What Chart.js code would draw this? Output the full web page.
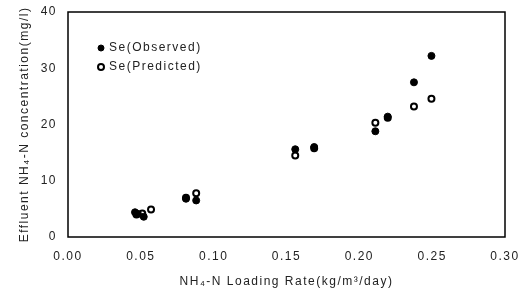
<!DOCTYPE html>
<html><head><meta charset="utf-8">
<script src="https://cdn.jsdelivr.net/npm/chart.js@4"></script>
<style>html,body{margin:0;padding:0;background:#fff}#wrap{width:527px;height:291px}</style>
</head><body><div id="wrap"><canvas id="c"></canvas></div>
<script>
const xTicks = [0, 0.05, 0.10, 0.15, 0.20, 0.25, 0.30];
const yTicks = [0, 10, 20, 30, 40];
const obsX = [0.046, 0.048, 0.052, 0.081, 0.088, 0.156, 0.169, 0.211, 0.2195, 0.2375, 0.2495];
const obsY = [4.4, 4.1, 3.6, 6.8, 6.5, 15.6, 16.0, 18.8, 21.4, 27.5, 32.2];
const predX = [0.047, 0.051, 0.057, 0.081, 0.088, 0.156, 0.169, 0.211, 0.2195, 0.2375, 0.2495];
const predY = [4.0, 4.2, 4.9, 7.0, 7.8, 14.5, 15.8, 20.3, 21.2, 23.2, 24.6];
const labels = ['Se(Observed)', 'Se(Predicted)'];
const xTitle = 'NH\u2084-N Loading Rate(kg/m\u00B3/day)';
const yTitle = 'Effluent NH\u2084-N concentration(mg/l)';

const FONT = {family: "'Liberation Sans', Arial, sans-serif", size: 12};
const TXT = '#222';

const spacing = {
  id: 'spacing',
  beforeDraw(chart) { chart.ctx.letterSpacing = '1.5px'; },
  beforeLayout(chart) { chart.ctx.letterSpacing = '1.5px'; }
};
const frame = {
  id: 'frame',
  afterDatasetsDraw(chart) {
    const {ctx, chartArea: a} = chart;
    ctx.save();
    ctx.strokeStyle = '#000';
    ctx.lineWidth = 1.5;
    ctx.strokeRect(a.left, a.top, a.right - a.left, a.bottom - a.top);
    ctx.letterSpacing = '1.5px';
    ctx.font = "12px 'Liberation Sans', Arial, sans-serif";
    ctx.textBaseline = 'middle';
    const rows = [48, 67];
    chart.data.datasets.forEach((ds, i) => {
      const y = rows[i];
      ctx.beginPath();
      ctx.arc(101, y, 3, 0, Math.PI * 2);
      ctx.fillStyle = ds.pointBackgroundColor;
      ctx.fill();
      ctx.lineWidth = ds.pointBorderWidth;
      ctx.strokeStyle = '#000';
      ctx.stroke();
      ctx.fillStyle = TXT;
      ctx.fillText(ds.label, 109, y);
    });
    ctx.restore();
  }
};

new Chart(document.getElementById('c'), {
  type: 'scatter',
  data: {
    datasets: [
      {label: labels[0], data: obsX.map((x, i) => ({x, y: obsY[i]})),
       pointRadius: 3.5, pointBackgroundColor: '#000', pointBorderColor: '#000', pointBorderWidth: 1},
      {label: labels[1], data: predX.map((x, i) => ({x, y: predY[i]})),
       pointRadius: 3, pointBackgroundColor: '#fff', pointBorderColor: '#000', pointBorderWidth: 2}
    ]
  },
  options: {
    responsive: true, maintainAspectRatio: false, animation: false,
    layout: {padding: {top: 12, right: 22, left: 13, bottom: 0}},
    plugins: {legend: {display: false}, tooltip: {enabled: false}},
    scales: {
      x: {
        type: 'linear', min: 0, max: 0.3,
        afterBuildTicks: s => { s.ticks = xTicks.map(v => ({value: v})); },
        afterFit: s => { s.height = 54; },
        grid: {display: false}, border: {display: false},
        ticks: {font: FONT, color: TXT, padding: 4, callback: v => v.toFixed(2), maxRotation: 0},
        title: {display: true, text: xTitle, font: FONT, color: TXT, padding: {top: 6, bottom: 2}}
      },
      y: {
        type: 'linear', min: 0, max: 40,
        afterBuildTicks: s => { s.ticks = yTicks.map(v => ({value: v})); },
        afterFit: s => { s.width = 55; },
        grid: {display: false}, border: {display: false},
        ticks: {font: FONT, color: TXT, padding: 3},
        title: {display: true, text: yTitle, font: FONT, color: TXT, padding: {bottom: 4}}
      }
    }
  },
  plugins: [spacing, frame]
});
</script></body></html>
